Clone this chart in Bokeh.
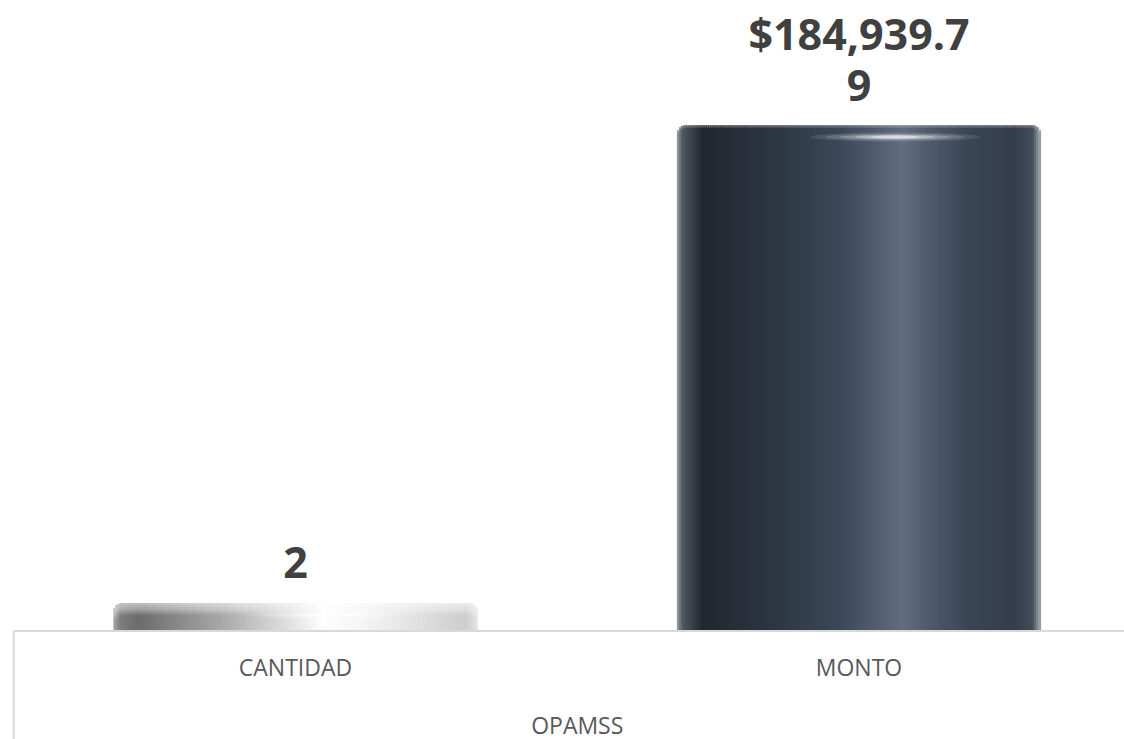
import numpy as np
from bokeh.plotting import figure
from bokeh.models import Range1d, ColumnDataSource
from bokeh.core.properties import value
from bokeh.embed import file_html
from bokeh.resources import INLINE

# ---------------- data ----------------
group = "OPAMSS"
categories = ["CANTIDAD", "MONTO"]
values = [2, 184939.79]
labels = ["2", "$184,939.79"]

# ---------------- layout (pixels) ----------------
W, H = 1124, 739
unit_px = 563.5          # pixels per category
x0_px = 13.25            # canvas x of category-domain start
base_px = 630.5          # canvas y of baseline (from top)
max_val_px = 478.0       # pixel height of the largest value
cap_px = 28.0            # cylinder cap height (pixels)
bar_px = 363.0           # bar width in pixels
radius_px = 9.0          # corner radius

k = max(values) / max_val_px          # data units per pixel (y)
ux = 1.0 / unit_px                    # data units per pixel (x)

p = figure(width=W, height=H,
           x_range=Range1d(-x0_px * ux, (W - x0_px) * ux),
           y_range=Range1d(-(H - base_px) * k, base_px * k),
           output_backend="svg", toolbar_location=None,
           x_axis_type=None, y_axis_type=None, min_border=0,
           outline_line_color=None, background_fill_color="white",
           border_fill_color="white")

def hex2rgb(h):
    h = h.lstrip("#")
    return np.array([int(h[i:i + 2], 16) for i in (0, 2, 4)], dtype=float)

def interp(stops, f):
    pos = [s[0] for s in stops]
    cols = [hex2rgb(s[1]) for s in stops]
    for j in range(len(pos) - 1):
        if pos[j] <= f <= pos[j + 1]:
            t = (f - pos[j]) / (pos[j + 1] - pos[j])
            c = cols[j] * (1 - t) + cols[j + 1] * t
            return "#%02x%02x%02x" % tuple(int(round(v)) for v in c)
    c = cols[-1]
    return "#%02x%02x%02x" % tuple(int(v) for v in c)

styles = [
    dict(stops=[(0.00, "#a8a8a8"), (0.02, "#7c7c7c"), (0.07, "#6c6c6c"),
                (0.30, "#a9a9a9"), (0.50, "#e6e6e6"), (0.58, "#ffffff"),
                (0.70, "#f3f3f3"), (0.86, "#dddddd"), (0.97, "#cdcdcd"),
                (1.00, "#e2e2e2")],
         bands=[(0, 2, 0.40), (2, 4, 0.34), (4, 6, 0.28), (6, 8, 0.22),
                (8, 10, 0.14), (10, 12, 0.06)]),
    dict(stops=[(0.00, "#9aa0a8"), (0.015, "#505862"), (0.07, "#22272f"),
                (0.25, "#2b3541"), (0.45, "#3b4858"), (0.57, "#566274"),
                (0.62, "#616d7e"), (0.70, "#4e5a6a"), (0.80, "#3a4555"),
                (0.93, "#343e4c"), (0.98, "#444d59"), (1.00, "#a0a6ae")],
         bands=[(0, 1.5, 0.22), (1.5, 3, 0.08)]),
]

n = 182
bar_w = bar_px * ux
for i, (cat, v) in enumerate(zip(categories, values)):
    cx = i + 0.5
    st = styles[i]
    top = v + cap_px * k
    xs, tops, cols = [], [], []
    for s in range(n):
        f = (s + 0.5) / n
        d = min(f, 1 - f) * bar_px
        drop = 0.0
        if d < radius_px:
            drop = radius_px - np.sqrt(max(radius_px ** 2 - (radius_px - d) ** 2, 0))
        xs.append(cx - bar_w / 2 + f * bar_w)
        tops.append(top - drop * k)
        cols.append(interp(st["stops"], f))
    src = ColumnDataSource(dict(x=xs, top=tops, color=cols))
    p.vbar(x="x", top="top", bottom=0, width=bar_w / n * 1.6,
           fill_color="color", line_color=None, source=src)
    for (a, b, al) in st["bands"]:
        t2 = [t - a * k for t in tops]
        b2 = [t - b * k for t in tops]
        p.vbar(x=xs, top=t2, bottom=b2, width=bar_w / n * 1.6,
               fill_color="white", fill_alpha=al, line_color=None)
    # highlight on the cap
    hx = cx + 36 * ux
    hy = top - 12 * k
    for (ew, eh, ea) in [(170, 9, 0.10), (140, 7, 0.14), (110, 5, 0.2),
                         (80, 4, 0.3), (50, 3, 0.45)]:
        p.ellipse(x=[hx], y=[hy], width=ew, height=eh,
                  width_units="screen", height_units="screen",
                  fill_color="white", fill_alpha=ea, line_color=None)

# axis lines
p.segment(x0=[0], y0=[0], x1=[len(categories)], y1=[0],
          line_color="#d9d9d9", line_width=2)
p.segment(x0=[0], y0=[0], x1=[0], y1=[p.y_range.start],
          line_color="#d9d9d9", line_width=2)

# value labels (wrapped like the original)
lx, ly, lt, lo = [], [], [], []
for i, (v, lab) in enumerate(zip(values, labels)):
    lines = [lab[j:j + 10] for j in range(0, len(lab), 10)]
    for li, line in enumerate(lines):
        lx.append(i + 0.5)
        ly.append(v + cap_px * k)
        lt.append(line)
        lo.append(-40 - 52 * (len(lines) - 1 - li))
p.text(x="x", y="y", text="t", y_offset="o",
       source=ColumnDataSource(dict(x=lx, y=ly, t=lt, o=lo)),
       text_font=value("Open Sans"), text_font_style="bold",
       text_font_size="43px", text_color="#404040",
       text_align="center", text_baseline="alphabetic")

# category labels
p.text(x=[i + 0.5 for i in range(len(categories))], y=[0] * len(categories),
       text=categories, y_offset=35.5,
       text_font=value("Open Sans"), text_font_size="23px",
       text_color="#595959", text_align="center", text_baseline="alphabetic")
p.text(x=[len(categories) / 2], y=[0], text=[group], y_offset=93.5,
       text_font=value("Open Sans"), text_font_size="23px",
       text_color="#595959", text_align="center", text_baseline="alphabetic")

open("out.html", "w").write(file_html(p, INLINE))
